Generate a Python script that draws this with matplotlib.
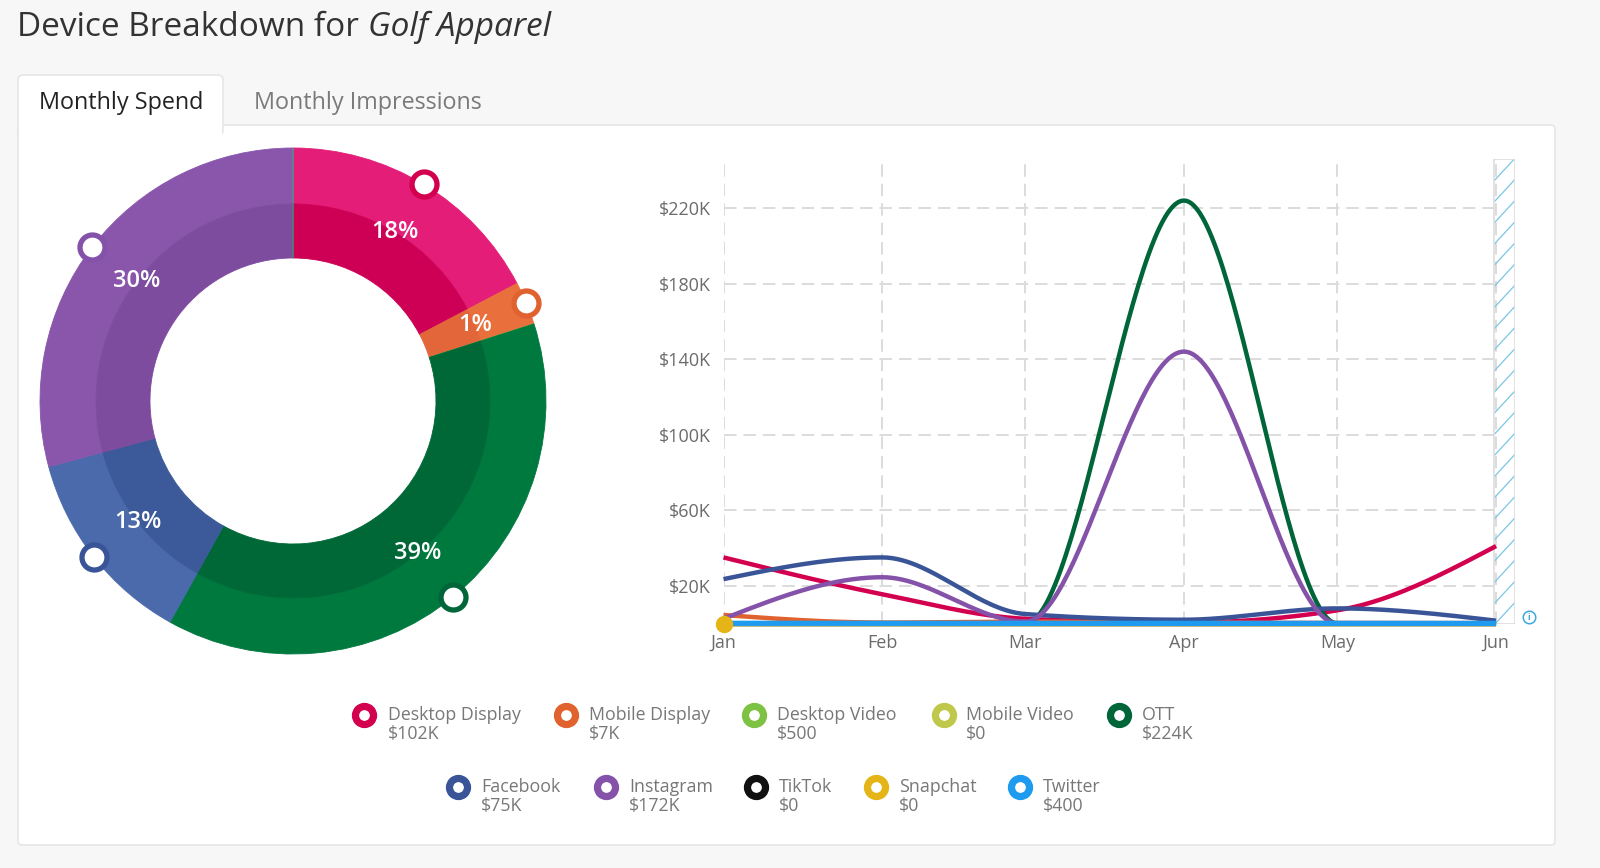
import numpy as np
import pandas as pd
import matplotlib
matplotlib.use('Agg')
import matplotlib.pyplot as plt
from matplotlib.patches import Rectangle, FancyBboxPatch

plt.rcParams['font.family'] = ['Open Sans', 'DejaVu Sans']
plt.rcParams['lines.scale_dashes'] = False

# ---- data ----
channels = ['Desktop Display', 'Mobile Display', 'Desktop Video', 'Mobile Video', 'OTT',
            'Facebook', 'Instagram', 'TikTok', 'Snapchat', 'Twitter']
totals = [102000, 7000, 500, 0, 224000, 75000, 172000, 0, 0, 400]
total_labels = ['$102K', '$7K', '$500', '$0', '$224K', '$75K', '$172K', '$0', '$0', '$400']

months = ['Jan', 'Feb', 'Mar', 'Apr', 'May', 'Jun']
month_starts = pd.date_range('2023-01-01', periods=6, freq='MS')

desktop_display = [35000, 15500, 2500, 500, 7000, 41000]
mobile_display = [4500, 500, 1000, 500, 300, 200]
desktop_video = [100, 100, 100, 100, 50, 50]
mobile_video = [0, 0, 0, 0, 0, 0]
ott = [0, 0, 0, 224000, 0, 0]
facebook = [23500, 35000, 5000, 2000, 8000, 1500]
instagram = [2500, 24500, 1000, 144000, 0, 0]
tiktok = [0, 0, 0, 0, 0, 0]
snapchat = [0, 0, 0, 0, 0, 0]
twitter = [100, 80, 60, 60, 50, 50]

y_ticks = [20000, 60000, 100000, 140000, 180000, 220000]

# colours
line_colors = ['#D2004F', '#E0622F', '#7DC242', '#BFC84A', '#00663A',
               '#3A5597', '#8552A9', '#111111', '#E5B517', '#1E9BEF']
ring_outer = ['#E41E78', '#E9703D', '#7DC242', '#BFC84A', '#00793F',
              '#4B6AAB', '#8A56AC', '#111111', '#E5B517', '#1DA1F2']
ring_inner = ['#CD0055', '#E3663A', '#70B03A', '#B0B840', '#006837',
              '#3C5A99', '#7D4C9E', '#000000', '#D9AA10', '#1A93DD']


def monotone_curve(x, y, n=60):
    # same shape as d3.curveMonotoneX
    x = np.asarray(x, float)
    y = np.asarray(y, float)
    h = np.diff(x)
    s = np.diff(y) / h
    t = np.zeros_like(y)
    for i in range(1, len(x) - 1):
        p = (s[i - 1] * h[i] + s[i] * h[i - 1]) / (h[i - 1] + h[i])
        t[i] = (np.sign(s[i - 1]) + np.sign(s[i])) * min(abs(s[i - 1]), abs(s[i]), 0.5 * abs(p))
    t[0] = (3 * s[0] - t[1]) / 2
    t[-1] = (3 * s[-1] - t[-2]) / 2
    xs, ys = [], []
    u = np.linspace(0, 1, n)
    h00 = 2 * u**3 - 3 * u**2 + 1
    h10 = u**3 - 2 * u**2 + u
    h01 = -2 * u**3 + 3 * u**2
    h11 = u**3 - u**2
    for i in range(len(x) - 1):
        xs.append(x[i] + u * h[i])
        ys.append(h00 * y[i] + h10 * h[i] * t[i] + h01 * y[i + 1] + h11 * h[i] * t[i + 1])
    return np.concatenate(xs), np.concatenate(ys)


W, H = 1600, 868
fig = plt.figure(figsize=(16, 8.68), dpi=100)
fig.patch.set_facecolor('#F7F7F7')

# ---- background, card, tabs (pixel coords) ----
ax_bg = fig.add_axes([0, 0, 1, 1], zorder=0)
ax_bg.set_xlim(0, W)
ax_bg.set_ylim(H, 0)
ax_bg.axis('off')

ax_bg.add_patch(FancyBboxPatch((18, 125), 1537, 720, boxstyle='round,pad=0,rounding_size=4',
                               fc='white', ec='#E6E6E6', lw=1.2))
ax_bg.add_patch(FancyBboxPatch((18, 75), 205, 60, boxstyle='round,pad=0,rounding_size=5',
                               fc='white', ec='#E6E6E6', lw=1.2))
ax_bg.add_patch(Rectangle((19, 118), 203, 20, fc='white', ec='none'))

t1 = ax_bg.text(17, 27, 'Device Breakdown for ', fontsize=24, color='#333333', va='center')
fig.canvas.draw()
bb = t1.get_window_extent()
ax_bg.text(bb.x1, 27, 'Golf Apparel', fontsize=24, color='#333333', va='center', style='italic')

ax_bg.text(39, 103, 'Monthly Spend', fontsize=16.8, color='#222222', va='center', fontweight='medium')
ax_bg.text(254, 103, 'Monthly Impressions', fontsize=16.8, color='#7A7A7A', va='center',
           fontweight='medium')

# info icon next to the chart
ax_bg.plot([1529], [617], 'o', ms=9, mfc='white', mec='#3FA9DE', mew=1.1)
ax_bg.text(1529, 617.5, 'i', fontsize=6.5, color='#3FA9DE', ha='center', va='center', fontweight='bold')

# ---- legend ----
leg_ring_x = [364, 566, 754, 944, 1119, 458, 606, 756, 876, 1020]
leg_text_x = [388, 589, 777, 966, 1142, 481, 629, 779, 899, 1043]
leg_y = [715, 787]
for i, name in enumerate(channels):
    y0 = leg_y[i // 5]
    ax_bg.plot([leg_ring_x[i]], [y0], 'o', ms=13, mfc='white', mec=line_colors[i], mew=5.2)
    ax_bg.text(leg_text_x[i], y0, name, fontsize=12.8, color='#777777', va='center')
    ax_bg.text(leg_text_x[i], y0 + 19, total_labels[i], fontsize=12.8, color='#777777', va='center')

# ---- donut ----
# slices under 0.5% are not drawn, and small visible ones get a minimum arc, as in the widget
tot = sum(totals)
shares = np.array(totals, float) / tot
shown = np.where(shares >= 0.005, np.maximum(shares, 0.028), 0.0)
shown = shown / shown.sum()

ax_d = fig.add_axes([0, 0, 1, 1], zorder=1)
ax_d.patch.set_alpha(0)
cx, cy = 293, H - 401
r_out, r_mid, r_in = 253, 197, 143
w_out, _ = ax_d.pie(shown, radius=r_out, center=(cx, cy), startangle=90, counterclock=False,
                    colors=ring_outer, wedgeprops=dict(width=r_out - r_mid, linewidth=0))
w_in, _ = ax_d.pie(shown, radius=r_mid, center=(cx, cy), startangle=90, counterclock=False,
                   colors=ring_inner, wedgeprops=dict(width=r_mid - r_in, linewidth=0))
for w in list(w_out) + list(w_in):
    w.set_edgecolor(w.get_facecolor())
    w.set_linewidth(0.6)
ax_d.set_xlim(0, W)
ax_d.set_ylim(0, H)
ax_d.set_aspect('auto')
ax_d.axis('off')

cum = 0.0
for i, frac in enumerate(shown):
    pct = round(shares[i] * 100)
    if frac > 0:
        ang = np.deg2rad(90 - 360 * (cum + frac / 2))
        ax_d.text(cx + r_mid * np.cos(ang), cy + r_mid * np.sin(ang), f'{pct}%', color='white',
                  fontsize=17, fontweight='semibold', ha='center', va='center')
        ax_d.plot([cx + r_out * np.cos(ang)], [cy + r_out * np.sin(ang)], 'o', ms=18,
                  mfc='white', mec=line_colors[i], mew=3.8, clip_on=False, zorder=5)
    cum += frac

# ---- line chart ----
days = (month_starts - month_starts[0]).days.to_numpy()
x_end = 154.7
hatch_x0 = 150.6
y_top = 246000
left, right, bottom, top = 723.5, 1515, 623.5, 159
ax = fig.add_axes([left / W, 1 - bottom / H, (right - left) / W, (bottom - top) / H], zorder=2)
ax.patch.set_alpha(0)
ax.set_xlim(0, x_end)
ax.set_ylim(0, y_top)
for sp in ax.spines.values():
    sp.set_visible(False)

grid_kw = dict(colors='#DCDCDC', linewidth=1.4, linestyles=[(0, (9, 5))], zorder=1)
ax.vlines(days, 0, y_top, **grid_kw)
ax.hlines(y_ticks, 0, hatch_x0, **grid_kw)

# striped "current period" band after the last month
band = Rectangle((hatch_x0, 0), x_end - hatch_x0, y_top, fc='none', ec='#DDDDDD', lw=1.2, zorder=1.6)
ax.add_patch(band)
stripe_rise = 12000
for y0 in np.arange(-stripe_rise, y_top + stripe_rise, 11200):
    ln, = ax.plot([hatch_x0, x_end], [y0, y0 + stripe_rise], color='#7CC6E6', lw=0.9, zorder=1.5)
    ln.set_clip_path(band)

series = [desktop_display, mobile_display, desktop_video, mobile_video, ott,
          facebook, instagram, tiktok, snapchat, twitter]
for i, vals in enumerate(series):
    xs, ys = monotone_curve(days, vals)
    lw = 3.8 if channels[i] == 'Twitter' else 3.2
    ax.plot(xs, ys, color=line_colors[i], lw=lw, clip_on=False, zorder=3 + i * 0.1,
            solid_capstyle='butt')
ax.plot([days[0]], [snapchat[0]], 'o', ms=11.5, color=line_colors[8], clip_on=False, zorder=5)

ax.set_yticks(y_ticks)
ax.set_yticklabels([f'${v // 1000}K' for v in y_ticks])
ax.set_xticks(days)
ax.set_xticklabels(months)
ax.tick_params(axis='both', length=0, labelsize=13, labelcolor='#6B6B6B')
ax.tick_params(axis='y', pad=9)
ax.tick_params(axis='x', pad=7.5)

fig.savefig('out.png', dpi=100, facecolor=fig.get_facecolor())
